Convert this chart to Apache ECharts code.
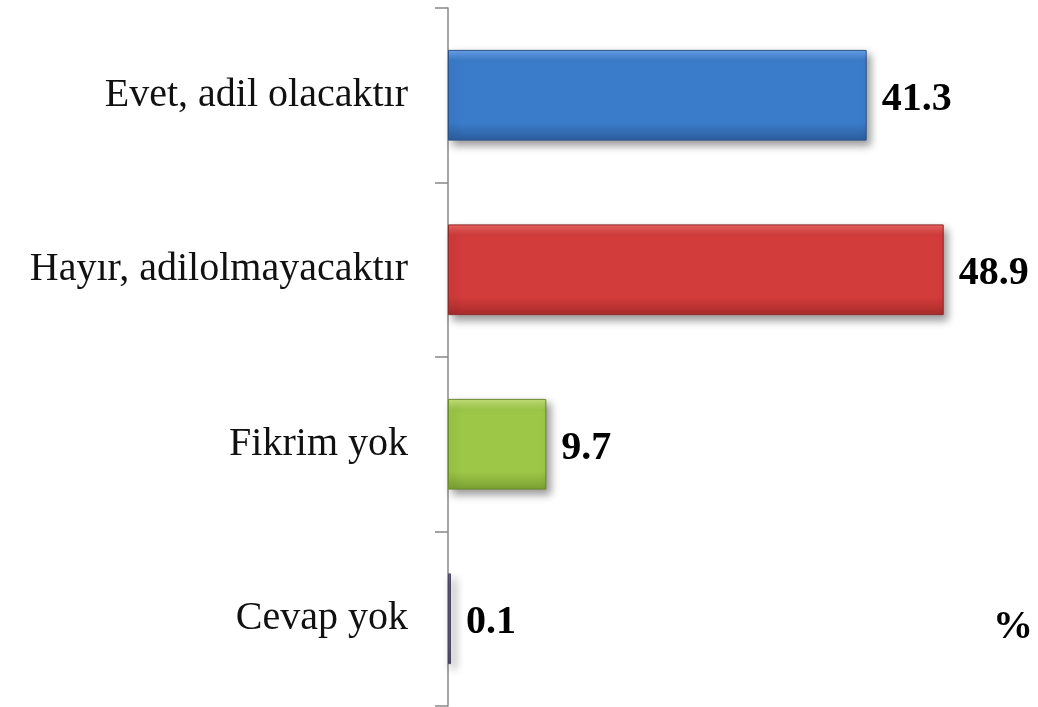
<!DOCTYPE html>
<html>
<head>
<meta charset="utf-8">
<script src="https://cdn.jsdelivr.net/npm/echarts@6/dist/echarts.min.js"></script>
<style>
  html, body { margin: 0; padding: 0; background: #fff; }
  #chart { width: 1038px; height: 707px; }
</style>
</head>
<body>
<div id="chart"></div>
<script>
var categories = ['Evet, adil olacaktır', 'Hayır, adilolmayacaktır', 'Fikrim yok', 'Cevap yok']
var values = [41.3, 48.9, 9.7, 0.1]
// top highlight, body, bottom shade, border
var barColors = [
  ['#69a3ea', '#3b7cca', '#2b5e9e', '#2a5288'],
  ['#ec6461', '#d23c3b', '#a82b2a', '#8e2a29'],
  ['#c4e27c', '#9dc847', '#7b9f33', '#6a8a2c'],
  ['#6e6c86', '#5d5a75', '#4a4860', '#4a4860']
]

var chart = echarts.init(document.getElementById('chart'))

var seriesData = values.map(function (v, i) {
  var c = barColors[i]
  return {
    value: v,
    itemStyle: {
      color: new echarts.graphic.LinearGradient(0, 0, 0, 1, [
        { offset: 0, color: c[0] },
        { offset: 0.12, color: c[1] },
        { offset: 0.8, color: c[1] },
        { offset: 1, color: c[2] }
      ]),
      borderColor: c[3],
      borderWidth: 1,
      shadowColor: 'rgba(0,0,0,0.4)',
      shadowBlur: 8,
      shadowOffsetX: 4,
      shadowOffsetY: 5
    }
  }
})

var option = {
  animation: false,
  backgroundColor: '#fff',
  grid: {
    left: 448,
    top: 8,
    bottom: 1,
    right: 0
  },
  xAxis: {
    type: 'value',
    min: 0,
    max: 58.2,
    show: false
  },
  yAxis: {
    type: 'category',
    inverse: true,
    data: categories,
    axisLine: { show: true, lineStyle: { color: '#888', width: 1.5 } },
    axisTick: { show: true, length: 13, lineStyle: { color: '#888', width: 1.5 } },
    axisLabel: {
      margin: 40,
      padding: [6, 0, 0, 0],
      fontFamily: 'Liberation Serif',
      fontSize: 40,
      color: '#111'
    }
  },
  series: [
    {
      type: 'bar',
      barCategoryGap: '48%',
      barMinHeight: 3,
      data: seriesData,
      label: {
        show: true,
        position: 'right',
        distance: 15,
        offset: [0, 4],
        fontFamily: 'Liberation Serif',
        fontWeight: 'bold',
        fontSize: 40,
        color: '#000'
      }
    }
  ],
  graphic: [
    {
      type: 'text',
      left: 993,
      top: 608,
      style: {
        text: '%',
        font: 'bold 40px "Liberation Serif"',
        fill: '#000'
      }
    }
  ]
}

chart.setOption(option)
</script>
</body>
</html>
